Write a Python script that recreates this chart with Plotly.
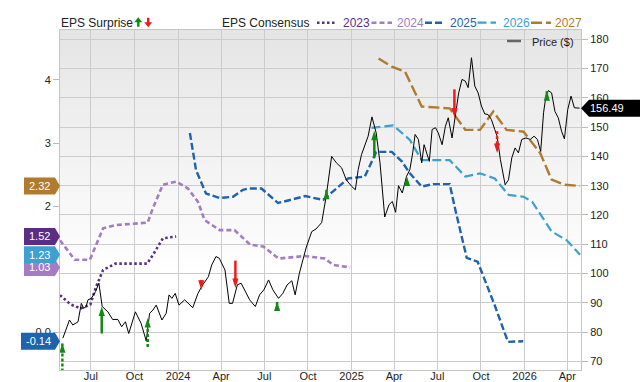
import plotly.graph_objects as go

# ---------------- data ----------------
price_dates = [
    "2023-05-03", "2023-05-17", "2023-05-24", "2023-06-04", "2023-06-11", "2023-06-16", "2023-06-21",
    "2023-06-25", "2023-07-02", "2023-07-11", "2023-07-18", "2023-07-25", "2023-08-06", "2023-08-16",
    "2023-08-27", "2023-09-04", "2023-09-12", "2023-09-19", "2023-10-03", "2023-10-15", "2023-10-26",
    "2023-11-02", "2023-11-09", "2023-11-16", "2023-11-28", "2023-12-07", "2023-12-13", "2023-12-19",
    "2023-12-26", "2024-01-03", "2024-01-15", "2024-02-01", "2024-02-12", "2024-02-22", "2024-03-05",
    "2024-03-12", "2024-03-21", "2024-03-28", "2024-04-09", "2024-04-18", "2024-04-25", "2024-05-05",
    "2024-05-13", "2024-05-31", "2024-06-12", "2024-06-21", "2024-06-30", "2024-07-10", "2024-07-19",
    "2024-07-31", "2024-08-09", "2024-08-18", "2024-08-28", "2024-09-04", "2024-09-13", "2024-09-27",
    "2024-10-09", "2024-10-18", "2024-10-30", "2024-11-09", "2024-11-20", "2024-11-30", "2024-12-11",
    "2024-12-21", "2025-01-01", "2025-01-09", "2025-01-15", "2025-01-22", "2025-02-05", "2025-02-13",
    "2025-02-22", "2025-03-02", "2025-03-12", "2025-03-21", "2025-03-28", "2025-04-04", "2025-04-10",
    "2025-04-18", "2025-04-27", "2025-05-04", "2025-05-10", "2025-05-15", "2025-05-22", "2025-05-29",
    "2025-06-03", "2025-06-09", "2025-06-14", "2025-06-20", "2025-06-27", "2025-07-03", "2025-07-11",
    "2025-07-18", "2025-07-24", "2025-08-01", "2025-08-08", "2025-08-15", "2025-08-22", "2025-08-29",
    "2025-09-04", "2025-09-11", "2025-09-18", "2025-09-25", "2025-10-02", "2025-10-09", "2025-10-16",
    "2025-10-23", "2025-10-30", "2025-11-04", "2025-11-11", "2025-11-21", "2025-11-28", "2025-12-05",
    "2025-12-12", "2025-12-19", "2025-12-26", "2026-01-04", "2026-01-13", "2026-01-21", "2026-01-28",
    "2026-02-04", "2026-02-10", "2026-02-15", "2026-02-20", "2026-02-27", "2026-03-06", "2026-03-13",
    "2026-03-20", "2026-03-26", "2026-04-02", "2026-04-09", "2026-04-16", "2026-04-27",
]
price_values = [
    77.9, 84.1, 82.4, 83.5, 89.8, 88.1, 88.7,
    91.0, 91.5, 93.8, 96.7, 88.7, 86.9, 84.3,
    84.3, 81.8, 83.5, 79.5, 86.9, 83.0, 76.9,
    86.4, 87.5, 89.2, 84.1, 86.4, 92.7, 91.5,
    93.2, 89.2, 91.0, 88.3, 93.2, 96.1, 98.9,
    102.9, 105.8, 105.2, 101.2, 89.8, 89.8, 96.1,
    96.7, 91.0, 88.7, 92.7, 94.4, 97.8, 94.4,
    91.5, 93.2, 96.1, 97.5, 92.7, 100.1, 108.7,
    114.3, 115.2, 117.4, 126.9, 140.0, 137.8, 136.1,
    132.0, 129.8, 128.6, 135.5, 140.6, 146.9, 153.5,
    148.0, 137.8, 119.3, 123.5, 124.6, 120.9, 130.0,
    127.5, 133.2, 135.5, 141.2, 147.5, 145.8, 137.8,
    144.0, 141.2, 138.3, 149.2, 149.8, 148.0, 144.0,
    150.3, 153.2, 146.3, 153.7, 161.7, 166.3, 165.7,
    163.5, 173.7, 164.0, 161.7, 157.2, 154.5, 154.3,
    152.6, 149.2, 146.9, 138.9, 130.3, 132.0, 139.5,
    142.9, 141.2, 145.8, 146.3, 145.8, 146.9, 145.8,
    141.7, 154.9, 160.6, 162.5, 161.7, 155.4, 153.2,
    148.6, 146.0, 156.0, 160.6, 156.6, 156.49,
]

eps_2023_dates = ["2023-04-27", "2023-05-20", "2023-06-10", "2023-06-30", "2023-07-12", "2023-07-27",
                  "2023-08-22", "2023-10-28", "2023-11-10", "2023-11-30", "2023-12-28"]
eps_2023_values = [0.59, 0.44, 0.38, 0.44, 0.72, 0.99, 1.09, 1.09, 1.24, 1.49, 1.52]

eps_2024_dates = ["2023-04-27", "2023-05-07", "2023-05-28", "2023-06-29", "2023-07-27", "2023-08-21",
                  "2023-10-29", "2023-11-09", "2023-11-30", "2023-12-28", "2024-01-22", "2024-02-12",
                  "2024-02-26", "2024-03-29", "2024-04-29", "2024-05-18", "2024-06-01", "2024-06-29",
                  "2024-07-31", "2024-09-25", "2024-11-06", "2024-11-23", "2024-12-29"]
eps_2024_values = [1.46, 1.36, 1.15, 1.15, 1.65, 1.70, 1.74, 1.97, 2.34, 2.39, 2.28, 2.07,
                   1.78, 1.62, 1.62, 1.49, 1.39, 1.36, 1.17, 1.21, 1.17, 1.07, 1.03]

eps_2025_dates = ["2024-01-26", "2024-02-08", "2024-02-29", "2024-03-29", "2024-04-26", "2024-05-17",
                  "2024-05-28", "2024-06-25", "2024-07-30", "2024-09-25", "2024-11-02", "2024-11-27",
                  "2024-12-25", "2025-01-29", "2025-02-22", "2025-03-27", "2025-04-17", "2025-05-04",
                  "2025-05-29", "2025-06-22", "2025-07-27", "2025-08-08", "2025-09-01", "2025-09-24",
                  "2025-10-30", "2025-11-27", "2025-12-29"]
eps_2025_values = [3.16, 2.57, 2.20, 2.13, 2.15, 2.26, 2.28, 2.28, 2.05, 2.16, 2.10, 2.26,
                   2.44, 2.47, 2.86, 2.86, 2.71, 2.52, 2.31, 2.35, 2.35, 1.94, 1.18, 1.12,
                   0.43, -0.15, -0.14]

eps_2026_dates = ["2025-02-12", "2025-03-30", "2025-05-04", "2025-05-29", "2025-07-27", "2025-08-29",
                  "2025-09-29", "2025-10-30", "2025-11-28", "2025-12-30", "2026-01-17", "2026-02-27",
                  "2026-03-31", "2026-04-28"]
eps_2026_values = [3.24, 3.28, 3.05, 2.73, 2.73, 2.47, 2.52, 2.44, 2.18, 2.15, 2.07, 1.60, 1.46, 1.23]

eps_2027_dates = ["2025-02-27", "2025-03-27", "2025-04-24", "2025-05-29", "2025-07-27", "2025-08-29",
                  "2025-09-29", "2025-10-27", "2025-11-24", "2025-12-30", "2026-02-03", "2026-02-27",
                  "2026-03-27", "2026-04-28"]
eps_2027_values = [4.34, 4.21, 4.13, 3.58, 3.55, 3.21, 3.21, 3.50, 3.21, 3.18, 2.84, 2.42, 2.34, 2.32]

# EPS surprise arrows, drawn on the price scale (start -> end)
surprise_dates = ["2023-05-02", "2023-07-24", "2023-10-29", "2024-02-19", "2024-05-01", "2024-07-28",
                  "2024-11-09", "2025-02-18", "2025-04-28", "2025-08-06", "2025-11-04", "2026-02-17"]
surprise_start = [66.5, 79.5, 74.9, 97.8, 104.4, 87.5, 125.9, 139.5, 130.0, 162.9, 148.6, 159.5]
surprise_end = [76.2, 88.7, 84.8, 94.4, 95.0, 90.4, 128.6, 148.8, 133.1, 153.3, 141.2, 162.3]

x_tick_dates = ["2023-07-01", "2023-10-01", "2024-01-01", "2024-04-01", "2024-07-01", "2024-10-01",
                "2025-01-01", "2025-04-01", "2025-07-01", "2025-10-01", "2026-01-01", "2026-04-01"]
x_tick_labels = ["Jul", "Oct", "2024", "Apr", "Jul", "Oct", "2025", "Apr", "Jul", "Oct", "2026", "Apr"]
price_ticks = [70, 80, 90, 100, 110, 120, 130, 140, 150, 160, 170, 180]
eps_ticks = [0, 2, 3, 4]
eps_tick_labels = ["0.0", "2", "3", "4"]

# ---------------- styles ----------------
FONT = "Liberation Sans, Arial, sans-serif"
W, H = 640, 382
ML, MR, MT, MB = 60, 59, 30, 12
PW, PH = W - ML - MR, H - MT - MB


def px(x):
    return (x - ML) / PW


def py(y):
    return (H - MB - y) / PH


series = [
    ("2023", eps_2023_dates, eps_2023_values, "#5c2d84", "2.5px,2.5px", 2.6),
    ("2024", eps_2024_dates, eps_2024_values, "#a47cc3", "5px,3px", 2.6),
    ("2025", eps_2025_dates, eps_2025_values, "#1f62ae", "7px,3px", 2.4),
    ("2026", eps_2026_dates, eps_2026_values, "#3ca0d0", "9px,4px", 2.2),
    ("2027", eps_2027_dates, eps_2027_values, "#b07b2e", "11px,4px", 2.4),
]
surprise_dash = ["3px,2px", "solid", "3px,2px", "3px,2px", "solid", "3px,2px",
                 "solid", "solid", "3px,2px", "solid", "3px,2px", "solid"]
GREEN, RED = "#128a12", "#ee1b1b"

fig = go.Figure()

for name, d, v, col, dash, w in series:
    fig.add_trace(go.Scatter(x=d, y=v, mode="lines", yaxis="y",
                             line=dict(color=col, width=w, dash=dash),
                             showlegend=False, hoverinfo="skip"))

fig.add_trace(go.Scatter(x=price_dates, y=price_values, mode="lines", yaxis="y2",
                         line=dict(color="#000000", width=1), showlegend=False))

for d, s, e, dsh in zip(surprise_dates, surprise_start, surprise_end, surprise_dash):
    col = GREEN if e > s else RED
    fig.add_trace(go.Scatter(x=[d, d], y=[s, e], mode="lines+markers", yaxis="y2",
                             line=dict(color=col, width=2.5, dash=dsh),
                             marker=dict(symbol="arrow", size=10, color=col, angleref="previous",
                                         line=dict(width=0)),
                             showlegend=False, hoverinfo="skip"))

shapes = []
# gradient background
N = 40
for i in range(N):
    y0, y1 = i / N, (i + 1) / N
    yc = (y0 + y1) / 2
    t = min(1.0, (1 - yc) / 0.72)
    g = int(round(229 + (255 - 229) * t))
    shapes.append(dict(type="rect", xref="paper", yref="paper", x0=0, x1=1, y0=y0, y1=y1 + 0.002,
                       fillcolor=f"rgb({g},{g},{g})", line=dict(width=0), layer="below"))

annotations = []

# left EPS flags (draw 1.03 before 1.23 so 1.23 sits on top)
flag_order = [4, 1, 2, 0, 3]  # 2027, 2024, 2026, 2023, 2025
for idx in flag_order:
    name, d, v, col, dash, w = series[idx]
    last = v[-1]
    label = f"{last:.2f}"
    bw = 36 if len(label) <= 4 else 39
    shapes.append(dict(type="path", xref="paper", yref="y", xsizemode="pixel", ysizemode="pixel",
                       xanchor=0, yanchor=last,
                       path=f"M0,0 L-5,8.5 L-{bw},8.5 L-{bw},-8.5 L-5,-8.5 Z",
                       fillcolor=col, line=dict(width=0), layer="above"))
    annotations.append(dict(xref="paper", yref="y", x=0, y=last, xanchor="center", yanchor="middle",
                            xshift=-(bw + 5) / 2, text=label, showarrow=False,
                            font=dict(family=FONT, size=11, color="#ffffff")))

# right price flag
last_price = price_values[-1]
shapes.append(dict(type="path", xref="paper", yref="y2", xsizemode="pixel", ysizemode="pixel",
                   xanchor=1, yanchor=last_price,
                   path="M0,0 L8,8.5 L60,8.5 L60,-8.5 L8,-8.5 Z",
                   fillcolor="#000000", line=dict(width=0), layer="above"))
annotations.append(dict(xref="paper", yref="y2", x=1, y=last_price, xanchor="left", yanchor="middle",
                        xshift=7, text=f"{last_price:.2f}", showarrow=False,
                        font=dict(family=FONT, size=11, color="#ffffff")))

# top legend
LY = py(23)
annotations.append(dict(xref="paper", yref="paper", x=px(59), y=LY, xanchor="left", yanchor="middle",
                        text="EPS Surprise", showarrow=False,
                        font=dict(family=FONT, size=12, color="#222222")))
# up / down arrow icons
shapes.append(dict(type="path", xref="paper", yref="paper", xsizemode="pixel", ysizemode="pixel",
                   xanchor=px(138.3), yanchor=py(22.3),
                   path="M-4,0 L4,0 L0,5 Z M-1.2,0 L1.2,0 L1.2,-4.5 L-1.2,-4.5 Z",
                   fillcolor=GREEN, line=dict(width=0)))
shapes.append(dict(type="path", xref="paper", yref="paper", xsizemode="pixel", ysizemode="pixel",
                   xanchor=px(148.2), yanchor=py(22.3),
                   path="M-4,0 L4,0 L0,-5 Z M-1.2,0 L1.2,0 L1.2,4.5 L-1.2,4.5 Z",
                   fillcolor=RED, line=dict(width=0)))
annotations.append(dict(xref="paper", yref="paper", x=px(220), y=LY, xanchor="left", yanchor="middle",
                        text="EPS Consensus", showarrow=False,
                        font=dict(family=FONT, size=12, color="#222222")))

legend_pos = [(317, 337, 341), (371.5, 392, 394.5), (425, 445, 447.5), (477.5, 496, 500.5), (531, 551, 553)]
for (name, d, v, col, dash, w), (xa, xb, xt) in zip(series, legend_pos):
    shapes.append(dict(type="line", xref="paper", yref="paper", x0=px(xa), x1=px(xb), y0=py(22.7),
                       y1=py(22.7), line=dict(color=col, width=w, dash=dash)))
    annotations.append(dict(xref="paper", yref="paper", x=px(xt), y=LY, xanchor="left", yanchor="middle",
                            text=name, showarrow=False, font=dict(family=FONT, size=12, color=col)))

# Price legend inside plot
shapes.append(dict(type="line", xref="paper", yref="paper", x0=px(507), x1=px(521), y0=py(41), y1=py(41),
                   line=dict(color="#666666", width=2.5)))
annotations.append(dict(xref="paper", yref="paper", x=px(530), y=py(41.5), xanchor="left", yanchor="middle",
                        text="Price ($)", showarrow=False, font=dict(family=FONT, size=11, color="#222222")))

GRID = "#cccccc"
fig.update_layout(
    width=W, height=H, autosize=False,
    margin=dict(l=ML, r=MR, t=MT, b=MB, pad=0),
    paper_bgcolor="#ffffff", plot_bgcolor="#ffffff",
    font=dict(family=FONT, size=11, color="#222222"),
    showlegend=False,
    xaxis=dict(type="date", range=["2023-04-27", "2026-04-30"], tickvals=x_tick_dates, ticktext=x_tick_labels,
               showgrid=True, gridcolor=GRID, gridwidth=1, ticks="", showline=True, mirror=True,
               linecolor="#c4c4c4", linewidth=1, zeroline=False, automargin=False, ticklabelstandoff=-4,
               tickfont=dict(family=FONT, size=11, color="#222222"), fixedrange=True),
    yaxis=dict(range=[-0.596, 4.792], tickvals=eps_ticks, ticktext=eps_tick_labels, side="left",
               showgrid=False, zeroline=False, ticks="outside", ticklen=6, tickcolor="#bbbbbb",
               showline=True, mirror=True, linecolor="#c4c4c4", automargin=False,
               tickfont=dict(family=FONT, size=11, color="#222222"), fixedrange=True),
    yaxis2=dict(range=[67.03, 183.18], tickvals=price_ticks, side="right", overlaying="y",
                showgrid=True, gridcolor=GRID, gridwidth=1, zeroline=False, ticks="outside", ticklen=6,
                tickcolor="#bbbbbb", showline=False, automargin=False,
                tickfont=dict(family=FONT, size=11, color="#222222"), fixedrange=True),
    shapes=shapes,
    annotations=annotations,
)

fig.write_html("out.html", post_script="document.body.style.margin='0';",
               config={"displayModeBar": False})
